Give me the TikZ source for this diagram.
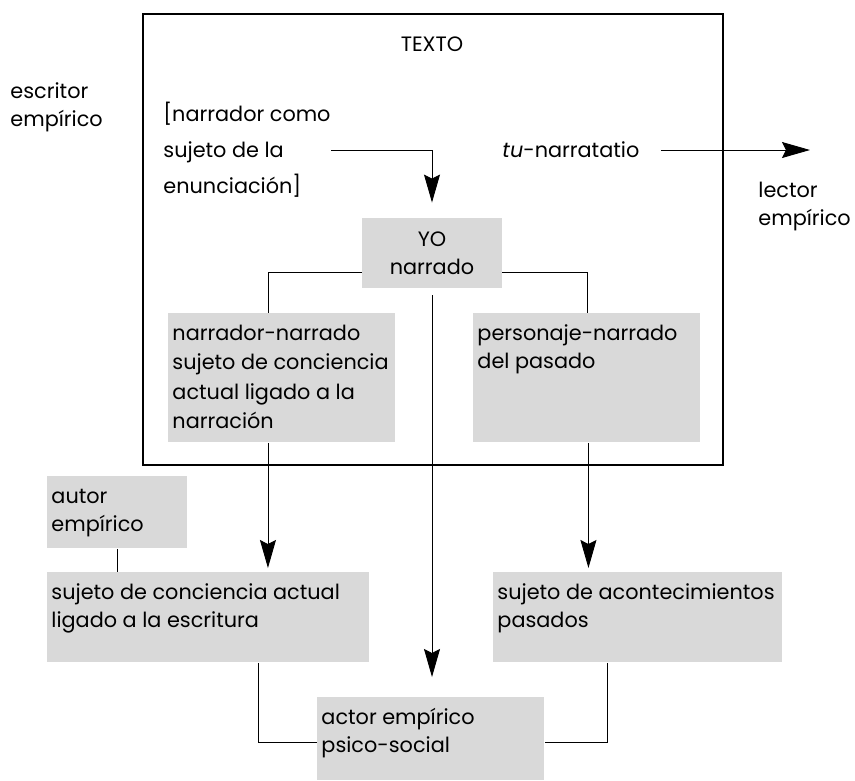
\documentclass[tikz,border=0pt]{standalone}
\usepackage{fontspec}
\setmainfont{Poppins}
\usetikzlibrary{arrows.meta,positioning}

\newcommand{\boxtext}[3]{\parbox[c][#2][t]{#1}{\raggedright\leftskip=4pt\rule{0pt}{27pt}#3}}

\begin{document}
\begin{tikzpicture}[x=1pt, y=-1pt, >={Stealth[length=28pt,width=16pt,inset=4pt]}, line width=0.9pt, font=\fontsize{20.8}{28}\selectfont]

    \tikzstyle{greybox} = [fill=black!15, inner sep=0pt, anchor=north west]
    \tikzstyle{plain}   = [align=left, inner sep=0pt]

    \useasboundingbox (0,0) rectangle (855,780);

    % the text frame
    \node (frame)   [draw, line width=2.7pt, minimum width=580pt, minimum height=451pt, inner sep=0pt] at (433,239.5) {};
    \node (texto)   at (432,44)                                         {TEXTO};

    \node (escritor) [plain, anchor=west] at (10,107)                   {escritor\\empírico};
    \node (narr)    [plain, anchor=west, font=\fontsize{20.8}{36}\selectfont] at (163,150) {[narrador como\\sujeto de la\\enunciación]};
    \node (tu)      [plain, anchor=west] at (502,150)                   {\textit{tu}-narratatio};
    \node (lector)  [plain, anchor=west] at (758,207)                   {lector\\empírico};
    \coordinate (tuend) at (810,150);

    \node (yo)      [fill=black!15, minimum width=140pt, minimum height=70pt, align=center, inner sep=0pt] at (432,253) {YO\\narrado};

    \node (nn)      [greybox] at (168,313)  {\boxtext{227pt}{129pt}{\fontsize{20.8}{29.5}\selectfont narrador-narrado\\sujeto de conciencia\\actual ligado a la\\narración}};
    \node (pn)      [greybox] at (473,313)  {\boxtext{227pt}{129pt}{personaje-narrado\\del pasado}};

    \node (autor)   [greybox] at (47,476)   {\boxtext{140pt}{72pt}{autor\\empírico}};
    \node (sca)     [greybox] at (47,572)   {\boxtext{322pt}{90pt}{sujeto de conciencia actual\\ligado a la escritura}};
    \node (sac)     [greybox] at (493,572)  {\boxtext{289pt}{90pt}{sujeto de acontecimientos\\pasados}};
    \node (actor)   [greybox] at (317,697)  {\boxtext{227pt}{83pt}{actor empírico\\psico-social}};

    % arrows
    \draw[->, shorten >=15pt]   (narr.east) -| (yo.north);
    \draw[->, shorten <=21pt]   (tu.east) -- (tu.east -| tuend);

    \draw ([yshift=-19pt]yo.west) -| ([xshift=-14pt]nn.north);
    \draw ([yshift=-19pt]yo.east) -| (pn.north);

    \draw[->, shorten <=7pt, shorten >=20pt]  (yo.south) -- (yo.south |- actor.north);
    \draw[->, shorten >=4pt]    ([xshift=-14pt]nn.south) -- ([xshift=-14pt]nn.south |- sca.north);
    \draw[->, shorten >=4pt]    ([xshift=1.5pt]pn.south) -- ([xshift=1.5pt]pn.south |- sac.north);

    \draw (autor.south) -- (autor.south |- sca.north);
    \draw ([xshift=50pt]sca.south) |- ([yshift=-3.5pt]actor.west);
    \draw ([xshift=-30.5pt]sac.south) |- ([yshift=-3.5pt]actor.east);

\end{tikzpicture}
\end{document}
